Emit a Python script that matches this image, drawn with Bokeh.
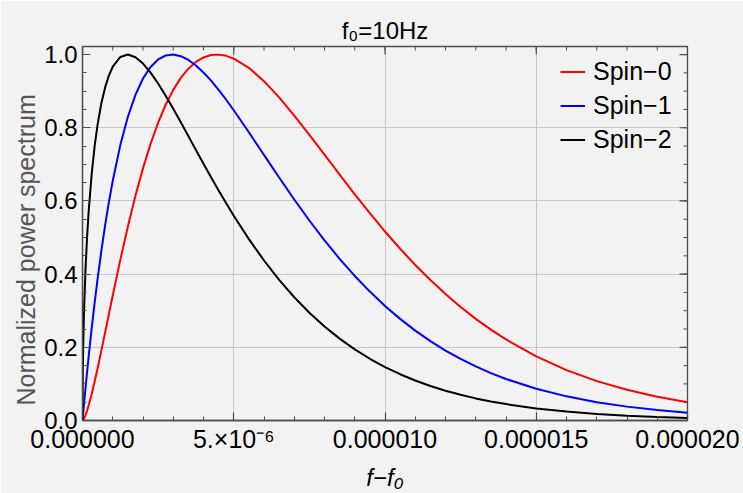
import numpy as np
from bokeh.plotting import figure
from bokeh.models import FixedTicker, Range1d, Title
from bokeh.embed import file_html
from bokeh.resources import INLINE

# f - f0, in units of 1e-6 Hz
df_micro = [0, 0.01, 0.02, 0.05, 0.1, 0.15, 0.2, 0.3, 0.4, 0.5,
            0.625, 0.75, 0.875, 1.0, 1.25, 1.5, 1.75, 2.0, 2.25, 2.5,
            2.75, 3.0, 3.25, 3.5, 3.75, 4.0, 4.25, 4.5, 4.75, 5.0,
            5.5, 6.0, 6.5, 7.0, 7.5, 8.0, 8.5, 9.0, 9.5, 10,
            10.5, 11, 11.5, 12, 12.5, 13, 13.5, 14, 15, 16,
            17, 18, 19, 20]

spin0 = [0, 0.0005, 0.0013, 0.0053, 0.0146, 0.0265, 0.0401, 0.0711, 0.1059, 0.1430,
         0.1916, 0.2415, 0.2917, 0.3417, 0.4389, 0.5302, 0.6140, 0.6895, 0.7560, 0.8137,
         0.8628, 0.9034, 0.9362, 0.9614, 0.9800, 0.9920, 0.9986, 0.9998, 0.9965, 0.9889,
         0.9636, 0.9272, 0.8830, 0.8334, 0.7806, 0.7264, 0.6720, 0.6181, 0.5664, 0.5164,
         0.4694, 0.4250, 0.3838, 0.3455, 0.3103, 0.2778, 0.2484, 0.2216, 0.1751, 0.1377,
         0.1075, 0.0838, 0.0647, 0.0497]

spin1 = [0, 0.0092, 0.0182, 0.0451, 0.0888, 0.1309, 0.1717, 0.2489, 0.3209, 0.3878,
         0.4647, 0.5346, 0.5979, 0.6551, 0.7526, 0.8299, 0.8898, 0.9346, 0.9662, 0.9866,
         0.9974, 0.9999, 0.9955, 0.9852, 0.9701, 0.9509, 0.9286, 0.9035, 0.8765, 0.8478,
         0.7876, 0.7257, 0.6640, 0.6039, 0.5465, 0.4923, 0.4419, 0.3950, 0.3523, 0.3131,
         0.2777, 0.2457, 0.2170, 0.1912, 0.1682, 0.1477, 0.1296, 0.1135, 0.0867, 0.0660,
         0.0500, 0.0379, 0.0284, 0.0213]

spin2 = [0, 0.1351, 0.1904, 0.2980, 0.4143, 0.4990, 0.5665, 0.6707, 0.7488, 0.8094,
         0.8675, 0.9109, 0.9433, 0.9667, 0.9933, 1.0000, 0.9927, 0.9753, 0.9506, 0.9208,
         0.8876, 0.8519, 0.8149, 0.7771, 0.7393, 0.7016, 0.6647, 0.6285, 0.5935, 0.5595,
         0.4956, 0.4372, 0.3843, 0.3368, 0.2945, 0.2569, 0.2237, 0.1943, 0.1687, 0.1461,
         0.1265, 0.1093, 0.0944, 0.0815, 0.0702, 0.0604, 0.0521, 0.0448, 0.0330, 0.0243,
         0.0179, 0.0132, 0.0096, 0.0070]

series_names = ["Spin\u22120", "Spin\u22121", "Spin\u22122"]
series_colors = ["#ff0000", "#0000ff", "#000000"]

x_ticks = [0.0, 5e-6, 1e-5, 1.5e-5, 2e-5]
x_tick_labels = ["0.000000", "5.\u00d710\u207b\u2076", "0.000010", "0.000015", "0.000020"]
y_ticks = [0.0, 0.2, 0.4, 0.6, 0.8, 1.0]
y_tick_labels = ["0.0", "0.2", "0.4", "0.6", "0.8", "1.0"]

assert len(df_micro) == len(spin0) == len(spin1) == len(spin2)
x = np.array(df_micro) * 1e-6

BG = "#f2f2f2"
AX = "#4d4d4d"
FONT = "Liberation Sans"
X_MAX, Y_MAX = 2e-5, 1.022

p = figure(width=743, height=493, output_backend="svg", toolbar_location=None,
           x_range=Range1d(0, X_MAX), y_range=Range1d(0, Y_MAX),
           min_border_left=82, min_border_right=56, min_border_top=46, min_border_bottom=73,
           title="f\u2080=10Hz")
p.background_fill_color = BG
p.border_fill_color = BG
p.outline_line_color = AX
p.outline_line_width = 1.3

p.title.align = "center"
p.title.text_font = FONT
p.title.text_font_size = "24px"
p.title.text_font_style = "normal"
p.title.text_color = "#000000"
p.title.standoff = 6

x_minor = list(np.arange(0, 21) * 1e-6)
y_minor = list(np.round(np.arange(0, 21) * 0.05, 3))

p.xgrid.ticker = FixedTicker(ticks=[5e-6, 1e-5, 1.5e-5])
p.ygrid.ticker = FixedTicker(ticks=[0.2, 0.4, 0.6, 0.8])
for g in [p.xgrid[0], p.ygrid[0]]:
    g.grid_line_color = "#c8c8c8"
    g.grid_line_width = 1

# ticks on the top and right frame edges (pointing inward)
p.ray(x=x_ticks, y=[Y_MAX] * len(x_ticks), length=8, length_units="screen",
      angle=-np.pi / 2, line_color=AX, line_width=1.2)
p.ray(x=x_minor, y=[Y_MAX] * len(x_minor), length=4, length_units="screen",
      angle=-np.pi / 2, line_color=AX, line_width=1.0)
p.ray(x=[X_MAX] * len(y_ticks), y=y_ticks, length=8, length_units="screen",
      angle=np.pi, line_color=AX, line_width=1.2)
p.ray(x=[X_MAX] * len(y_minor), y=y_minor, length=4, length_units="screen",
      angle=np.pi, line_color=AX, line_width=1.0)

for ys, name, col in zip([spin0, spin1, spin2], series_names, series_colors):
    p.line(x, ys, line_color=col, line_width=2, legend_label=name)

xaxis = p.below[0]
yaxis = p.left[0]
xaxis.ticker = FixedTicker(ticks=x_ticks, minor_ticks=x_minor)
yaxis.ticker = FixedTicker(ticks=y_ticks, minor_ticks=y_minor)
xaxis.major_label_overrides = {t: l for t, l in zip(x_ticks, x_tick_labels)}
yaxis.major_label_overrides = {t: l for t, l in zip(y_ticks, y_tick_labels)}

for ax in [xaxis, yaxis]:
    ax.axis_line_color = AX
    ax.axis_line_width = 1.3
    ax.major_tick_line_color = AX
    ax.minor_tick_line_color = AX
    ax.major_tick_line_width = 1.2
    ax.minor_tick_line_width = 1.0
    ax.major_tick_in = 8
    ax.major_tick_out = 0
    ax.minor_tick_in = 4
    ax.minor_tick_out = 0
    ax.major_label_text_font = FONT
    ax.major_label_text_color = "#000000"

xaxis.major_label_text_font_size = "25px"
yaxis.major_label_text_font_size = "24px"
xaxis.major_label_standoff = 4
yaxis.major_label_standoff = 5

xaxis.axis_label = "f\u2212f\u2080"
xaxis.axis_label_text_font = FONT
xaxis.axis_label_text_font_size = "24px"
xaxis.axis_label_text_font_style = "italic"
xaxis.axis_label_text_color = "#000000"
xaxis.axis_label_standoff = 8

# y-axis title as a left-side title, placed a little low like the reference
ytitle = Title(text="Normalized power spectrum", align="left", offset=15,
               text_font=FONT, text_font_size="25px", text_font_style="normal",
               text_color="#555555", standoff=4)
p.add_layout(ytitle, "left")

lg = p.legend[0]
lg.location = (474, 262)
lg.margin = 0
lg.background_fill_alpha = 0
lg.border_line_alpha = 0
lg.label_text_font = FONT
lg.label_text_font_size = "25px"
lg.label_text_color = "#000000"
lg.glyph_width = 25
lg.glyph_height = 29
lg.label_height = 29
lg.label_standoff = 8
lg.spacing = 5
lg.padding = 4

open("out.html", "w").write(file_html(p, INLINE))
